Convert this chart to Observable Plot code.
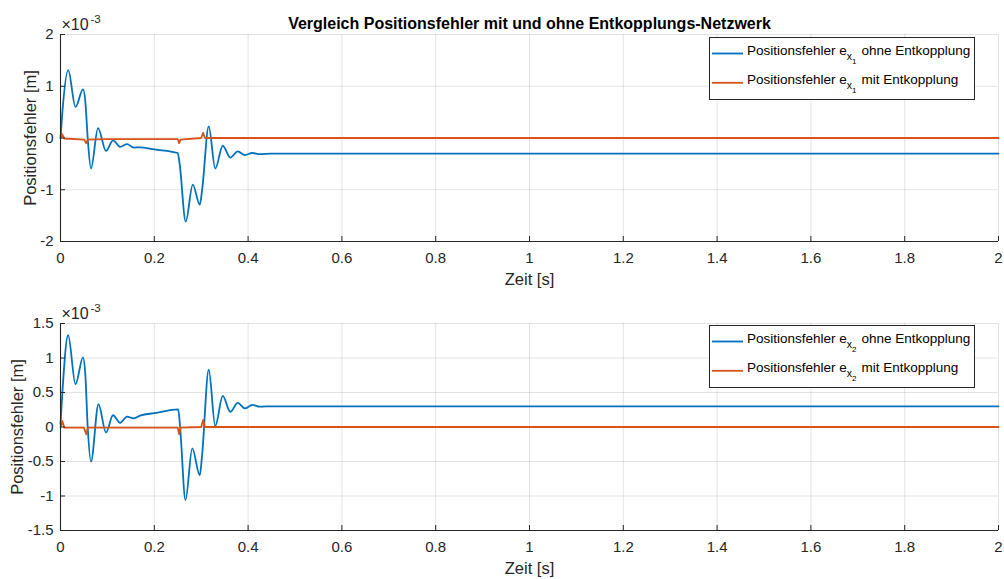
<!DOCTYPE html>
<html>
<head>
<meta charset="utf-8">
<script src="https://cdn.jsdelivr.net/npm/d3@7"></script>
<script src="https://cdn.jsdelivr.net/npm/@observablehq/plot@0.6"></script>
<style>
  html, body { margin: 0; padding: 0; background: #fff; }
  #wrap { position: relative; width: 1004px; height: 579px; font-family: 'Liberation Sans', Arial, Helvetica, sans-serif; }
  .panel { position: absolute; left: 0; }
  .legend { position: absolute; }
</style>
</head>
<body>
<div id="wrap"></div>
<script>
// ---------- data (values in units of 1e-3 m) ----------
const title = "Vergleich Positionsfehler mit und ohne Entkopplungs-Netzwerk";
const xLabel = "Zeit [s]";
const yLabel = "Positionsfehler [m]";
const xTicks = [0, 0.2, 0.4, 0.6, 0.8, 1, 1.2, 1.4, 1.6, 1.8, 2];
const yTicks1 = [-2, -1, 0, 1, 2];
const yTicks2 = [-1.5, -1, -0.5, 0, 0.5, 1, 1.5];

// Panel 1: e_x1 ohne Entkopplung
const t_blue1 = [0, 0.004, 0.0164, 0.032, 0.048, 0.053, 0.058, 0.065, 0.080, 0.097, 0.112, 0.127, 0.142, 0.156, 0.170, 0.20, 0.250, 0.254, 0.267, 0.282, 0.297, 0.302, 0.316, 0.330, 0.346, 0.362, 0.378, 0.393, 0.409, 0.425, 0.45, 2.0];
const v_blue1 = [0, 0.5, 1.31, 0.60, 0.94, 0.70, 0.0, -0.59, 0.19, -0.25, -0.045, -0.17, -0.12, -0.185, -0.18, -0.22, -0.29, -0.5, -1.615, -0.90, -1.29, -1.0, 0.225, -0.59, -0.15, -0.38, -0.26, -0.33, -0.29, -0.31, -0.30, -0.30];
// Panel 1: e_x1 mit Entkopplung
const t_orange1 = [0, 0.003, 0.008, 0.05, 0.055, 0.058, 0.10, 0.25, 0.253, 0.256, 0.30, 0.304, 0.308, 2.0];
const v_orange1 = [0, 0.08, -0.01, -0.03, -0.10, -0.03, -0.02, -0.02, -0.10, -0.03, 0, 0.10, 0, 0];

// Panel 2: e_x2 ohne Entkopplung
const t_blue2 = [0, 0.004, 0.0163, 0.032, 0.048, 0.053, 0.058, 0.065, 0.081, 0.097, 0.112, 0.127, 0.142, 0.156, 0.171, 0.20, 0.251, 0.255, 0.2665, 0.281, 0.297, 0.302, 0.316, 0.330, 0.346, 0.362, 0.378, 0.393, 0.409, 0.425, 0.45, 2.0];
const v_blue2 = [0.04, 0.5, 1.33, 0.62, 1.01, 0.75, 0.0, -0.50, 0.33, -0.08, 0.17, 0.06, 0.15, 0.126, 0.17, 0.20, 0.256, 0.0, -1.06, -0.31, -0.70, -0.40, 0.83, 0.015, 0.45, 0.22, 0.35, 0.27, 0.32, 0.295, 0.30, 0.30];
// Panel 2: e_x2 mit Entkopplung
const t_orange2 = [0, 0.004, 0.008, 0.05, 0.055, 0.058, 0.10, 0.25, 0.253, 0.256, 0.30, 0.304, 0.308, 2.0];
const v_orange2 = [0, 0.087, -0.01, -0.01, -0.105, -0.01, -0.01, -0.01, -0.105, -0.01, 0, 0.10, 0, 0];

const legend1 = ["ohne Entkopplung", "mit Entkopplung"];
const subIdx1 = "1", subIdx2 = "2";

// ---------- helpers ----------
const zip = (t, v) => t.map((d, i) => ({t: d, v: v[i]}));
const fmt = d => String(d);
const C_BLUE = "#0072BD", C_ORANGE = "#D95319", C_AX = "#262626";
const FONT = "'Liberation Sans', Arial, Helvetica, sans-serif";

function panel({blue, orange, yDomain, yTicks, height, marginTop, yLabelDx, showTitle}) {
  const marks = [
    Plot.gridX(xTicks, {stroke: C_AX, strokeOpacity: 0.13, strokeWidth: 1}),
    Plot.gridY(yTicks, {stroke: C_AX, strokeOpacity: 0.13, strokeWidth: 1}),
    Plot.line(blue, {x: "t", y: "v", stroke: C_BLUE, strokeWidth: 1.8, curve: "monotone-x"}),
    Plot.line(orange, {x: "t", y: "v", stroke: C_ORANGE, strokeWidth: 1.8}),
    Plot.ruleX([xTicks[0]], {stroke: C_AX, strokeWidth: 1.1}),
    Plot.ruleY([yDomain[0]], {stroke: C_AX, strokeWidth: 1.1}),
    // inward ticks
    Plot.axisX(xTicks, {tickSize: 5, dy: -5, fill: "none", stroke: C_AX, label: null}),
    Plot.axisY(yTicks, {tickSize: 5, dx: 5, fill: "none", stroke: C_AX, label: null}),
    // tick labels
    Plot.axisX(xTicks, {tickSize: 0, tickPadding: 11, tickFormat: fmt, fill: C_AX, label: null, fontSize: 15}),
    Plot.axisY(yTicks, {tickSize: 0, tickPadding: 7, tickFormat: fmt, fill: C_AX, label: null, fontSize: 15}),
    // axis titles
    Plot.text([xLabel], {frameAnchor: "bottom", dy: 38, lineAnchor: "middle", fontSize: 16.5, fill: C_AX}),
    Plot.text([yLabel], {frameAnchor: "left", rotate: -90, dx: yLabelDx, textAnchor: "middle", lineAnchor: "middle", fontSize: 16.5, fill: C_AX}),
    // exponent label
    Plot.text(["×10"], {frameAnchor: "top-left", textAnchor: "start", lineAnchor: "bottom", dx: 1, dy: -5, fontSize: 16, fill: C_AX}),
    Plot.text(["-3"], {frameAnchor: "top-left", textAnchor: "start", lineAnchor: "bottom", dx: 30, dy: -12, fontSize: 11.5, fill: C_AX})
  ];
  if (showTitle) {
    marks.push(Plot.text([title], {frameAnchor: "top", lineAnchor: "bottom", dy: -6, fontSize: 16, fontWeight: "bold", fill: "#000"}));
  }
  return Plot.plot({
    width: 1004, height,
    marginLeft: 60, marginRight: 6, marginTop, marginBottom: 49,
    style: {fontFamily: FONT, fontSize: "15px", color: C_AX, background: "#fff", overflow: "visible"},
    x: {domain: [xTicks[0], xTicks[xTicks.length - 1]]},
    y: {domain: yDomain},
    marks
  });
}

function legend(idx, top) {
  const w = 265, h = 62;
  const svg = d3.create("svg").attr("class", "legend").attr("width", w + 1).attr("height", h + 1)
    .style("left", "709px").style("top", top + "px").style("overflow", "visible");
  svg.append("rect").attr("x", 0.5).attr("y", 0.5).attr("width", w).attr("height", h)
    .attr("fill", "#fff").attr("stroke", C_AX).attr("stroke-width", 1);
  const rows = [{c: C_BLUE, txt: legend1[0], y: 16.5}, {c: C_ORANGE, txt: legend1[1], y: 45.8}];
  rows.forEach(r => {
    svg.append("line").attr("x1", 3).attr("x2", 34).attr("y1", r.y).attr("y2", r.y)
      .attr("stroke", r.c).attr("stroke-width", 1.8);
    const tx = svg.append("text").attr("x", 38).attr("y", r.y + 1.5)
      .attr("font-family", FONT).attr("font-size", 13.5).attr("fill", "#000");
    tx.append("tspan").text("Positionsfehler e");
    tx.append("tspan").attr("dy", 5).attr("font-size", 10.5).text("x");
    tx.append("tspan").attr("dy", 3.5).attr("font-size", 8).text(idx);
    tx.append("tspan").attr("dy", -8.5).attr("dx", 5).attr("font-size", 13.5).text(r.txt);
  });
  return svg.node();
}

const wrap = document.getElementById("wrap");
const p1 = panel({blue: zip(t_blue1, v_blue1), orange: zip(t_orange1, v_orange1), yDomain: [-2, 2], yTicks: yTicks1, height: 290, marginTop: 34, yLabelDx: -30, showTitle: true});
p1.classList.add("panel"); p1.style.top = "0px"; p1.style.position = "absolute";
const p2 = panel({blue: zip(t_blue2, v_blue2), orange: zip(t_orange2, v_orange2), yDomain: [-1.5, 1.5], yTicks: yTicks2, height: 289, marginTop: 33, yLabelDx: -43, showTitle: false});
p2.classList.add("panel"); p2.style.top = "290px"; p2.style.position = "absolute";
wrap.appendChild(p1);
wrap.appendChild(p2);
wrap.appendChild(legend(subIdx1, 37));
wrap.appendChild(legend(subIdx2, 325));
</script>
</body>
</html>
